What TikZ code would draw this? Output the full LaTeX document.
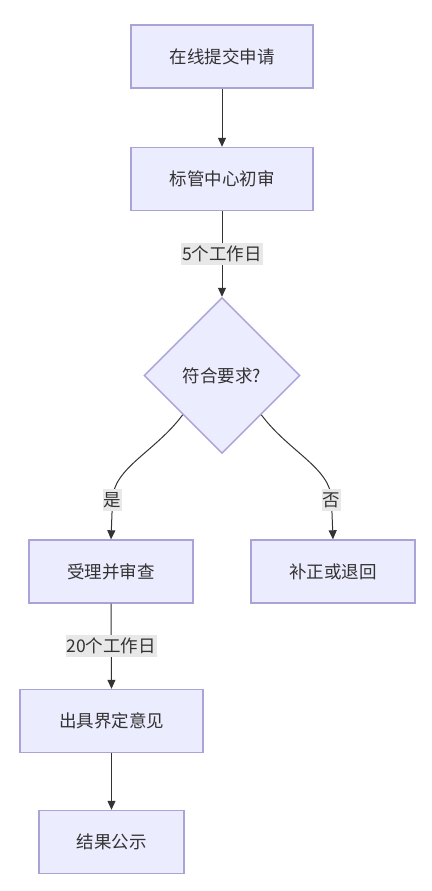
\documentclass[tikz,border=0pt]{standalone}
\usepackage{fontspec}
\setmainfont{Noto Sans CJK SC}
\usepackage{xcolor}
\usetikzlibrary{shapes.geometric, arrows.meta}

\definecolor{boxfill}{HTML}{ECECFF}
\definecolor{boxline}{HTML}{A9A3D8}
\definecolor{inkgray}{HTML}{333333}
\definecolor{labelbg}{HTML}{E8E8E8}

\tikzset{
  stepbox/.style={draw=boxline, fill=boxfill, line width=0.5mm, text=inkgray,
    minimum height=63pt, inner sep=0pt, font=\fontsize{17.5}{20}\selectfont},
  decision/.style={diamond, draw=boxline, fill=boxfill, line width=0.5mm, text=inkgray,
    minimum width=156pt, minimum height=156pt, inner sep=0pt, font=\fontsize{17.5}{20}\selectfont},
  flow/.style={draw=inkgray, line width=0.35mm, -{Triangle[length=9pt, width=8pt]}},
  edgelabel/.style={fill=labelbg, text=inkgray, inner xsep=1pt, inner ysep=3pt,
    font=\fontsize{17.5}{20}\selectfont}
}

\begin{document}
\begin{tikzpicture}[x=1pt, y=-1pt]
  % Canvas
  \useasboundingbox[fill=white] (0,0) rectangle (431,891);

  % Steps
  \node[stepbox, minimum width=182pt] (apply)   at (222, 56.5) {在线提交申请};
  \node[stepbox, minimum width=182pt] (precheck) at (222, 179) {标管中心初审};
  \node[decision] (ok) at (222, 375.5) {符合要求?};
  \node[stepbox, minimum width=164pt] (accept)  at (111, 571.5) {受理并审查};
  \node[stepbox, minimum width=164pt] (correct) at (333, 571.5) {补正或退回};
  \node[stepbox, minimum width=183pt] (opinion) at (111.5, 721) {出具界定意见};
  \node[stepbox, minimum width=145pt] (publish) at (111.5, 842) {结果公示};

  % Arrows
  \draw[flow] (apply) -- (precheck);
  \draw[flow] (precheck) -- node[edgelabel] {5个工作日} (ok);
  \draw[flow] (ok.south west) .. controls (155,452) and (113,468) .. (112.5,500)
    node[edgelabel] {是} -- (accept.north);
  \draw[flow] (ok.south east) .. controls (289,452) and (331,468) .. (331.5,500)
    node[edgelabel] {否} -- (correct.north);
  \draw[flow] (accept.south) -- node[edgelabel] {20个工作日} (opinion.north);
  \draw[flow] (opinion.south) -- (publish.north);
\end{tikzpicture}
\end{document}
